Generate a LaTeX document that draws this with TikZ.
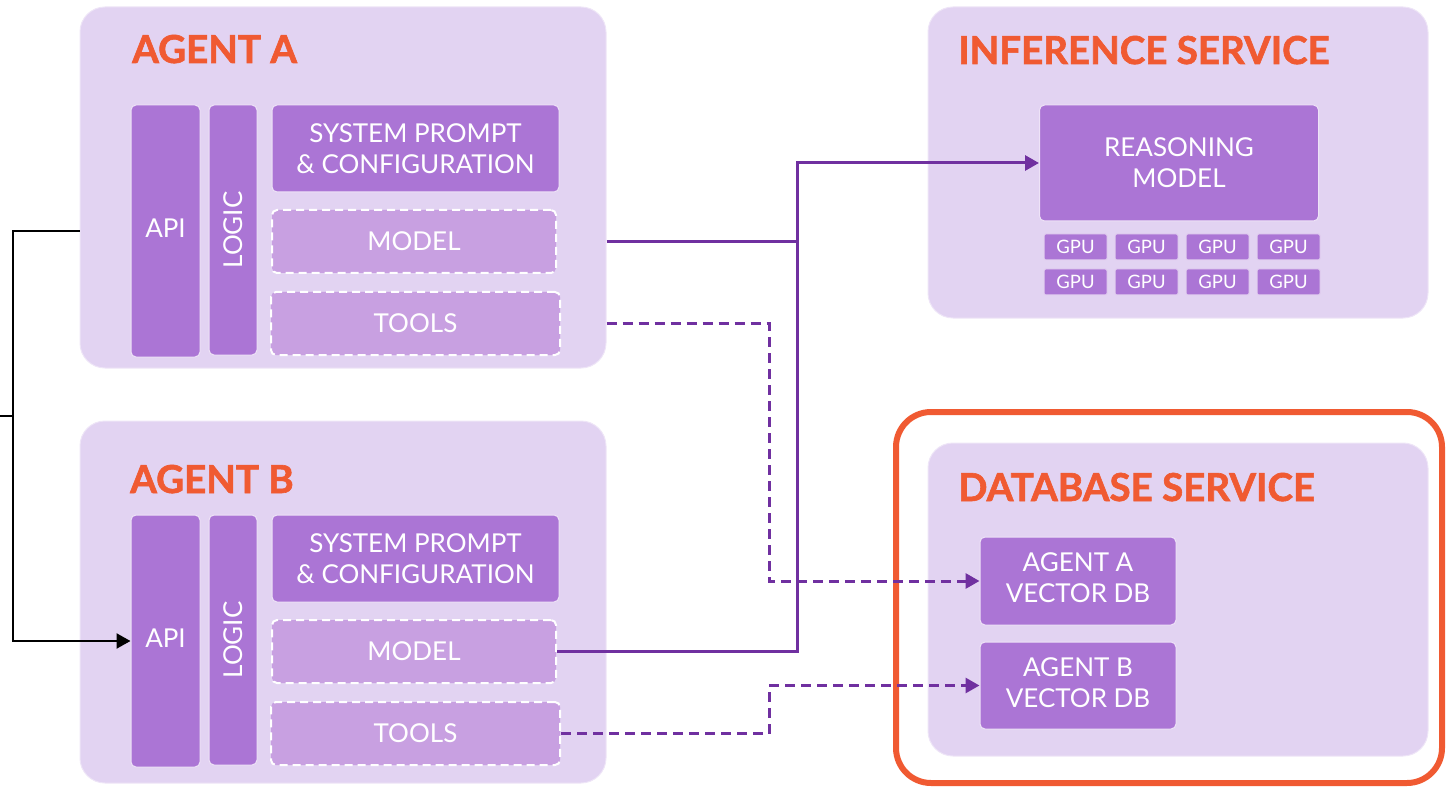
\documentclass[tikz,border=0pt]{standalone}
\usepackage{fontspec}
\setmainfont{Lato}
\newfontfamily\heavyfam{Lato}[BoldFeatures={FakeBold=1.6}]
\usetikzlibrary{arrows.meta}

\definecolor{panelbg}{RGB}{226,211,242}
\definecolor{blockbg}{RGB}{171,117,213}
\definecolor{optbg}{RGB}{200,160,225}
\definecolor{accent}{RGB}{240,90,50}
\definecolor{wire}{RGB}{112,48,160}

\newcommand\bdfont{\fontsize{26}{31}\selectfont}
\newcommand\hdfont{\heavyfam\fontsize{38.5}{46}\selectfont\bfseries}
\newcommand\gpfont{\fontsize{18.5}{22}\selectfont}
% extra depth that lifts a centred label a little
\newcommand\lift{\rule[-6pt]{0pt}{0pt}}

\tikzset{
  wh/.style 2 args={minimum width=#1pt, minimum height=#2pt},
  panel/.style={fill=panelbg, draw=panelbg!60!white, line width=1pt,
    rounded corners=25pt, inner sep=0pt},
  block/.style={fill=blockbg, draw=white!80!blockbg, line width=1pt,
    rounded corners=5pt, text=white, font=\bdfont, align=center, inner sep=0pt},
  optblock/.style={block, fill=optbg, draw=white, line width=2pt,
    dash pattern=on 8pt off 5pt},
  gpubox/.style={fill=blockbg, draw=white!65!blockbg, line width=1pt,
    rounded corners=1.5pt, text=white, font=\gpfont, inner sep=0pt,
    minimum width=63pt, minimum height=26pt},
  heading/.style={text=accent, font=\hdfont, anchor=base west, inner sep=0pt},
  tip/.style={-{Triangle[length=14pt,width=15pt]}},
  wirelink/.style={draw=wire, line width=3pt},
  wiredash/.style={wirelink, dash pattern=on 10pt off 6pt},
  calllink/.style={draw=black, line width=2.3pt},
}

\begin{document}
\begin{tikzpicture}[x=1pt, y=-1pt]
\useasboundingbox (0,0) rectangle (1448,794);

% service panels
\node[panel, wh={526}{361}] (agentA) at (343,187.5) {};
\node[panel, wh={526}{362}] (agentB) at (343,602) {};
\node[panel, wh={500}{311}] (infer) at (1178,162.5) {};
\node[draw=accent, line width=6pt, rounded corners=35pt, wh={546}{371}] (focus) at (1169,597.5) {};
\node[panel, wh={500}{313}] (dbsvc) at (1178,599.5) {};

% headings
\node[heading] (titleA) at (132,63) {AGENT A};
\node[heading] (titleB) at (130,493) {AGENT B};
\node[heading] (titleI) at (958,64) {INFERENCE SERVICE};
\node[heading] (titleD) at (958,501) {DATABASE SERVICE};

% agent A components
\node[block, wh={69}{252}] (apiA) at (165.5,231) {\raisebox{5pt}{API}};
\node[block, wh={48}{250}] (logicA) at (233,230) {\rotatebox{90}{LOGIC}};
\node[block, wh={287}{87}] (sysA) at (415.5,148.5) {SYSTEM PROMPT\\\& CONFIGURATION};
\node[optblock, wh={284}{63}] (modelA) at (414,241.5) {MODEL};
\node[optblock, wh={289}{63}] (toolsA) at (415.5,323.5) {TOOLS};

% agent B components
\node[block, wh={69}{252}] (apiB) at (165.5,641) {\raisebox{5pt}{API}};
\node[block, wh={48}{250}] (logicB) at (233,640) {\rotatebox{90}{LOGIC}};
\node[block, wh={287}{87}] (sysB) at (415.5,558.5) {SYSTEM PROMPT\\\& CONFIGURATION};
\node[optblock, wh={284}{63}] (modelB) at (414,651.5) {MODEL};
\node[optblock, wh={289}{63}] (toolsB) at (415.5,733.5) {TOOLS};

% inference service
\node[block, wh={279}{116}] (reason) at (1179,163) {REASONING\\MODEL};
\foreach \r/\y in {1/247,2/282}{
  \foreach \c/\x in {1/1075.5,2/1146.5,3/1217.5,4/1288.5}{
    \node[gpubox] (gpu-\r-\c) at (\x,\y) {GPU};
  }
}

% database service
\node[block, wh={196}{88}] (vdbA) at (1078,581) {AGENT A\\VECTOR DB\lift};
\node[block, wh={196}{87}] (vdbB) at (1078,685.5) {AGENT B\\VECTOR DB\lift};

% routing columns
\coordinate (busX) at (797,0);
\coordinate (dbX) at (769,0);
\coordinate (leftX) at (13,0);
\coordinate (edgeIn) at (0,416);

% model calls to the inference service
\draw[wirelink, tip] (agentA.east |- modelA.center) -- (busX |- modelA.center)
  -- (busX |- reason.center) -- (reason.west);
\draw[wirelink] (modelB.east) -- (busX |- modelB.center) -- (busX |- modelA.center);

% tool calls to the vector stores
\draw[wiredash, tip] (agentA.east |- toolsA.center) -- (dbX |- toolsA.center)
  -- (dbX |- vdbA.center) -- (vdbA.west);
\draw[wiredash, tip] (toolsB.east) -- (dbX |- toolsB.center)
  -- (dbX |- vdbB.center) -- (vdbB.west);

% agent A calling agent B
\draw[calllink] (edgeIn) -- (leftX |- edgeIn);
\draw[calllink, tip] (agentA.west |- apiA.center) -- (leftX |- apiA.center)
  -- (leftX |- apiB.center) -- (apiB.west);
\end{tikzpicture}
\end{document}
